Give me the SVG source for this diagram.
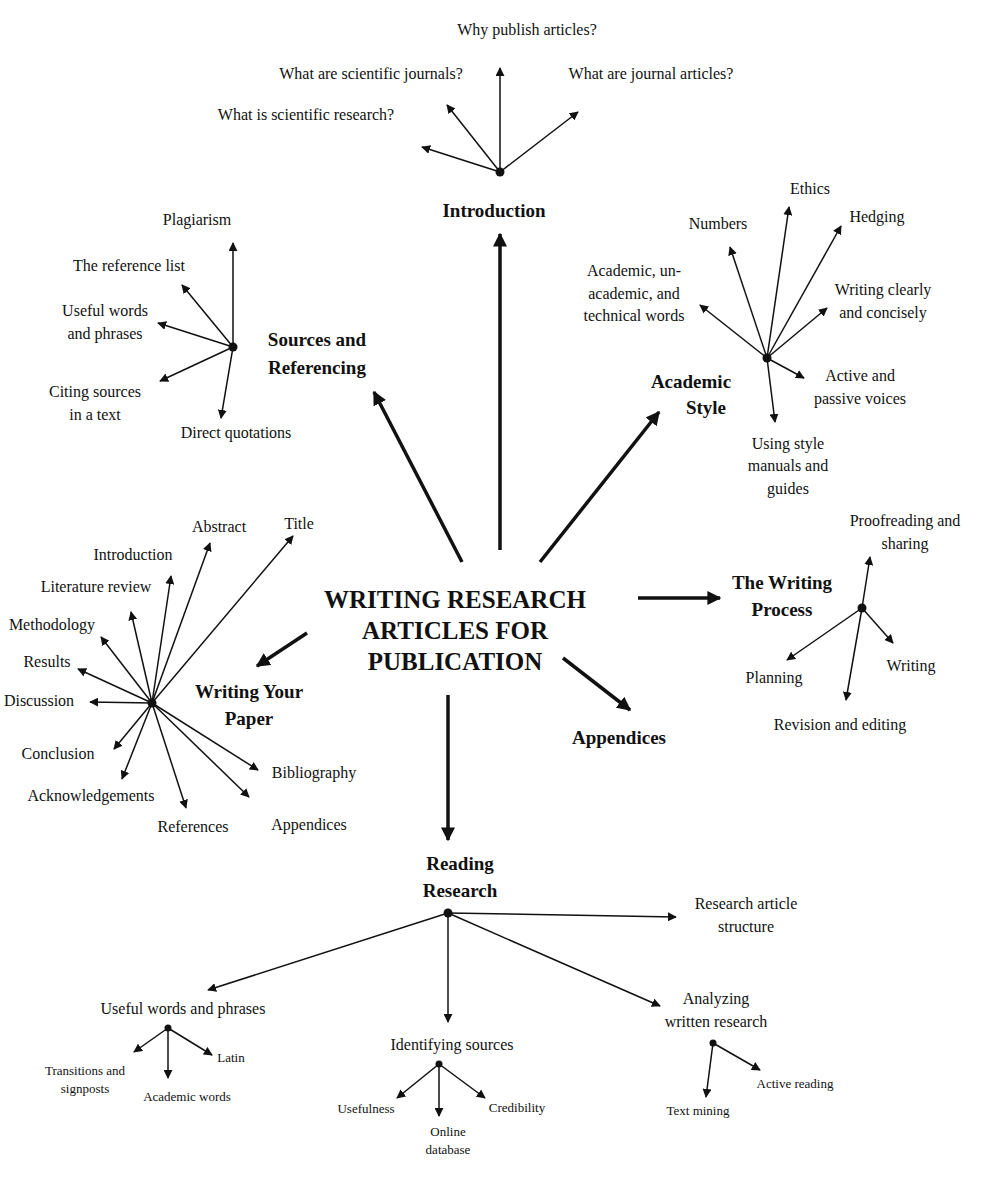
<svg xmlns="http://www.w3.org/2000/svg" width="990" height="1200" viewBox="0 0 990 1200">
<style>
text{font-family:"Liberation Serif",serif;fill:#111;text-anchor:middle}
.s{font-size:16px}.h{font-size:19px;font-weight:bold}.c{font-size:25px;font-weight:bold}.t{font-size:13px}.m{font-size:15px}
.l{stroke:#111;stroke-width:1.5;fill:none;marker-end:url(#a)}
.b{stroke:#111;stroke-width:3.5;fill:none;marker-end:url(#ab)}
</style>
<defs>
<marker id="a" viewBox="0 0 10 10" refX="9" refY="5" markerWidth="9" markerHeight="9" markerUnits="userSpaceOnUse" orient="auto"><path d="M0,0 L10,5 L0,10z" fill="#111"/></marker>
<marker id="ab" viewBox="0 0 10 10" refX="9" refY="5" markerWidth="4" markerHeight="4" orient="auto"><path d="M0,0 L10,5 L0,10z" fill="#111"/></marker>
</defs>
<rect width="990" height="1200" fill="#fff"/>
<g id="connectors">
<path class="b" d="M500,550 L500,234"/><path class="b" d="M462,562 L374,392"/><path class="b" d="M540,562 L659,412"/>
<path class="b" d="M638,598 L720,598"/><path class="b" d="M563,658 L630,710"/><path class="b" d="M448,695 L448,840"/><path class="b" d="M307,633 L257,666"/>
<path class="l" d="M500,172 L500,68"/><path class="l" d="M500,172 L447,105"/><path class="l" d="M500,172 L422,147"/><path class="l" d="M500,172 L578,112"/>
<path class="l" d="M233,347 L233,243"/><path class="l" d="M233,347 L182,285"/><path class="l" d="M233,347 L158,323"/><path class="l" d="M233,347 L160,381"/><path class="l" d="M233,347 L221,418"/>
<path class="l" d="M152,703 L293,536"/><path class="l" d="M152,703 L210,543"/><path class="l" d="M152,703 L171,576"/><path class="l" d="M152,703 L131,612"/><path class="l" d="M152,703 L101,637"/><path class="l" d="M152,703 L78,669"/><path class="l" d="M152,703 L90,702"/><path class="l" d="M152,703 L114,749"/><path class="l" d="M152,703 L122,779"/><path class="l" d="M152,703 L186,808"/><path class="l" d="M152,703 L249,797"/><path class="l" d="M152,703 L258,770"/>
<path class="l" d="M767,358 L730,247"/><path class="l" d="M767,358 L789,207"/><path class="l" d="M767,358 L841,226"/><path class="l" d="M767,358 L700,305"/><path class="l" d="M767,358 L827,308"/><path class="l" d="M767,358 L804,378"/><path class="l" d="M767,358 L775,422"/>
<path class="l" d="M862,608 L870,557"/><path class="l" d="M862,608 L893,643"/><path class="l" d="M862,608 L846,700"/><path class="l" d="M862,608 L787,660"/>
<path class="l" d="M448,913 L676,917"/><path class="l" d="M448,913 L208,990"/><path class="l" d="M448,913 L448,1022"/><path class="l" d="M448,913 L660,1006"/>
<path class="l" d="M168,1028 L134,1052"/><path class="l" d="M168,1028 L168,1078"/><path class="l" d="M168,1028 L212,1055"/>
<path class="l" d="M439,1064 L397,1098"/><path class="l" d="M439,1064 L439,1116"/><path class="l" d="M439,1064 L485,1098"/>
<path class="l" d="M713,1043 L706,1097"/><path class="l" d="M713,1043 L760,1070"/>
</g>
<g fill="#111"><circle cx="500" cy="172" r="4.5"/><circle cx="233" cy="347" r="4.5"/><circle cx="152" cy="703" r="4.5"/><circle cx="767" cy="358" r="4.5"/><circle cx="862" cy="608" r="4.5"/><circle cx="448" cy="913" r="4.5"/><circle cx="168" cy="1028" r="3.5"/><circle cx="439" cy="1064" r="3.5"/><circle cx="713" cy="1043" r="3.5"/></g>
<g id="center"><text class="c" x="455" y="608">WRITING RESEARCH</text><text class="c" x="455" y="639">ARTICLES FOR</text><text class="c" x="455" y="670">PUBLICATION</text></g>
<g id="introduction"><text class="h" x="494" y="217">Introduction</text>
<text class="s" x="527" y="35">Why publish articles?</text><text class="s" x="371" y="79">What are scientific journals?</text><text class="s" x="651" y="79">What are journal articles?</text><text class="s" x="306" y="120">What is scientific research?</text></g>
<g id="sources"><text class="h" x="317" y="346">Sources and</text><text class="h" x="317" y="374">Referencing</text>
<text class="s" x="197" y="225">Plagiarism</text><text class="s" x="129" y="271">The reference list</text><text class="s" x="105" y="316">Useful words</text><text class="s" x="105" y="339">and phrases</text><text class="s" x="95" y="397">Citing sources</text><text class="s" x="95" y="420">in a text</text><text class="s" x="236" y="438">Direct quotations</text></g>
<g id="academic-style"><text class="h" x="691" y="388">Academic</text><text class="h" x="706" y="414">Style</text>
<text class="s" x="810" y="194">Ethics</text><text class="s" x="718" y="229">Numbers</text><text class="s" x="877" y="222">Hedging</text><text class="s" x="634" y="276">Academic, un-</text><text class="s" x="634" y="299">academic, and</text><text class="s" x="634" y="321">technical words</text><text class="s" x="883" y="295">Writing clearly</text><text class="s" x="883" y="318">and concisely</text><text class="s" x="860" y="381">Active and</text><text class="s" x="860" y="404">passive voices</text><text class="s" x="788" y="449">Using style</text><text class="s" x="788" y="471">manuals and</text><text class="s" x="788" y="494">guides</text></g>
<g id="writing-process"><text class="h" x="782" y="589">The Writing</text><text class="h" x="782" y="616">Process</text>
<text class="s" x="905" y="526">Proofreading and</text><text class="s" x="905" y="549">sharing</text><text class="s" x="911" y="671">Writing</text><text class="s" x="774" y="683">Planning</text><text class="s" x="840" y="730">Revision and editing</text></g>
<g id="appendices"><text class="h" x="619" y="744">Appendices</text></g>
<g id="writing-paper"><text class="h" x="249" y="698">Writing Your</text><text class="h" x="249" y="725">Paper</text>
<text class="s" x="299" y="529">Title</text><text class="s" x="219" y="532">Abstract</text><text class="s" x="133" y="560">Introduction</text><text class="s" x="96" y="592">Literature review</text><text class="s" x="52" y="630">Methodology</text><text class="s" x="47" y="667">Results</text><text class="s" x="39" y="706">Discussion</text><text class="s" x="58" y="759">Conclusion</text><text class="s" x="91" y="801">Acknowledgements</text><text class="s" x="193" y="832">References</text><text class="s" x="309" y="830">Appendices</text><text class="s" x="314" y="778">Bibliography</text></g>
<g id="reading-research"><text class="h" x="460" y="870">Reading</text><text class="h" x="460" y="897">Research</text>
<text class="s" x="746" y="909">Research article</text><text class="s" x="746" y="932">structure</text><text class="s" x="183" y="1014">Useful words and phrases</text><text class="s" x="452" y="1050">Identifying sources</text><text class="s" x="716" y="1004">Analyzing</text><text class="s" x="716" y="1027">written research</text>
<text class="t" x="85" y="1075">Transitions and</text><text class="t" x="85" y="1093">signposts</text><text class="t" x="187" y="1101">Academic words</text><text class="t" x="231" y="1062">Latin</text>
<text class="t" x="366" y="1113">Usefulness</text><text class="t" x="517" y="1112">Credibility</text><text class="t" x="448" y="1136">Online</text><text class="t" x="448" y="1154">database</text>
<text class="t" x="698" y="1115">Text mining</text><text class="t" x="795" y="1088">Active reading</text></g>
</svg>
